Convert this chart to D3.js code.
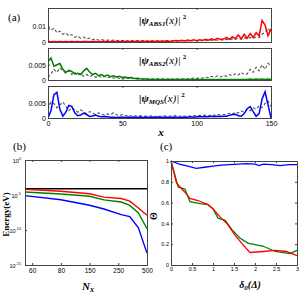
<!DOCTYPE html>
<html><head><meta charset="utf-8">
<script src="https://cdn.jsdelivr.net/npm/d3@7"></script>
<style>
body{margin:0;background:#fff;}
svg{display:block;}
.tick text{font-family:"Liberation Sans",Arial,sans-serif;}
</style></head>
<body>
<script>
// ---------- DATA ----------
// Panel (a): x grid 0..150 step 2
const xA = d3.range(0, 151, 2);
const abs1 = [.0003,.0002,.0003,.0002,.0003,.0002,.0003,.0002,.0003,.0002,.0003,.0002,.0003,.0003,.0002,.0003,.0003,.0002,.0003,.0004,.0003,.0002,.0003,.0004,.0003,.0003,.0004,.0003,.0004,.0003,.0005,.0003,.0004,.0005,.0003,.0005,.0004,.0006,.0004,.0005,.0007,.0004,.0006,.0009,.0006,.0011,.0007,.0012,.0008,.0015,.0009,.0014,.0010,.0018,.0012,.0020,.0013,.0024,.0016,.0019,.0030,.0018,.0034,.0022,.0045,.0020,.0050,.0025,.0055,.0030,.0060,.0040,.0140,.0110,.0040,.0085];
const ref1 = [.0095,.0075,.0090,.0060,.0070,.0050,.0058,.0040,.0048,.0030,.0038,.0025,.0032,.0020,.0026,.0015,.0020,.0012,.0016,.0010,.0013,.0009,.0012,.0008,.0011,.0008,.0010,.0007,.0009,.0007,.0009,.0007,.0009,.0006,.0008,.0007,.0009,.0006,.0008,.0007,.0009,.0007,.0008,.0006,.0009,.0007,.0008,.0007,.0009,.0008,.0010,.0008,.0011,.0009,.0012,.0010,.0014,.0011,.0015,.0012,.0018,.0014,.0020,.0016,.0024,.0018,.0028,.0020,.0030,.0024,.0032,.0028,.0050,.0065,.0090,.0060];
const abs2 = [.0060,.0072,.0045,.0050,.0054,.0035,.0025,.0032,.0028,.0020,.0022,.0018,.0030,.0038,.0026,.0018,.0022,.0014,.0018,.0012,.0016,.0011,.0014,.0010,.0012,.0008,.0010,.0007,.0008,.0005,.0006,.0004,.0003,.0003,.0002,.0002,.0002,.0002,.0002,.0002,.0002,.0002,.0002,.0002,.0002,.0002,.0002,.0002,.0002,.0002,.0002,.0002,.0002,.0002,.0002,.0002,.0002,.0002,.0002,.0002,.0002,.0002,.0002,.0002,.0002,.0002,.0002,.0002,.0003,.0002,.0003,.0002,.0003,.0002,.0003,.0002];
const ref2 = [.0008,.0020,.0035,.0025,.0040,.0030,.0022,.0030,.0018,.0025,.0015,.0022,.0012,.0018,.0011,.0016,.0009,.0014,.0008,.0012,.0007,.0010,.0006,.0009,.0005,.0007,.0004,.0006,.0004,.0005,.0003,.0004,.0003,.0004,.0003,.0004,.0003,.0004,.0003,.0004,.0003,.0004,.0003,.0004,.0003,.0004,.0003,.0004,.0005,.0006,.0005,.0008,.0006,.0009,.0008,.0012,.0009,.0014,.0010,.0015,.0012,.0018,.0014,.0020,.0016,.0025,.0018,.0020,.0035,.0025,.0042,.0030,.0050,.0035,.0055,.0045];
const mqs = [.0000,.0025,.0080,.0088,.0030,.0006,.0020,.0043,.0040,.0018,.0008,.0010,.0017,.0012,.0005,.0007,.0010,.0006,.0004,.0005,.0004,.0003,.0003,.0002,.0003,.0003,.0002,.0003,.0002,.0003,.0002,.0003,.0002,.0003,.0002,.0003,.0002,.0003,.0002,.0003,.0003,.0002,.0003,.0003,.0002,.0003,.0003,.0003,.0004,.0003,.0004,.0005,.0004,.0005,.0004,.0006,.0004,.0006,.0005,.0006,.0006,.0009,.0012,.0013,.0008,.0006,.0015,.0032,.0039,.0022,.0006,.0015,.0065,.0090,.0045,.0000];
const ref3 = [.0030,.0055,.0050,.0035,.0045,.0055,.0040,.0025,.0035,.0028,.0020,.0028,.0022,.0015,.0022,.0017,.0012,.0018,.0013,.0010,.0014,.0011,.0018,.0012,.0008,.0012,.0008,.0010,.0007,.0009,.0006,.0008,.0005,.0007,.0006,.0008,.0005,.0007,.0006,.0008,.0005,.0007,.0006,.0008,.0006,.0007,.0006,.0008,.0006,.0008,.0007,.0009,.0008,.0010,.0008,.0011,.0009,.0012,.0010,.0012,.0012,.0016,.0013,.0020,.0017,.0024,.0020,.0030,.0025,.0035,.0030,.0042,.0035,.0050,.0058,.0040];
const xTicksA = [0, 50, 100, 150];

// Panel (b)
const nxPos = [-0.25, 1, 2, 2.5, 3.1, 3.4, 3.7, 4];
const nxTickLabels = ["60", "80", "150", "250", "500"];
const eBlack = [8e-5, 8e-5, 8e-5, 8e-5, 8e-5, 8e-5, 8e-5, 8e-5];
const eRed   = [6.3e-5, 3.4e-5, 1.5e-5, 5e-6, 3.2e-6, 1.3e-6, 1.4e-7, 1.3e-8];
const eGreen = [2.7e-5, 1.4e-5, 6.5e-6, 2e-6, 1e-6, 3.2e-7, 2.7e-8, 1.5e-10];
const eBlue  = [8e-6, 2.1e-6, 3.4e-7, 1e-7, 1.6e-8, 8e-9, 2e-10, 5e-14];
const eTickExp = ["0", "-5", "-10", "-15"];
const eTicks = [1, 1e-5, 1e-10, 1e-15];

// Panel (c)
const dRed   = [0, 0.13, 0.33, 0.45, 0.64, 0.88, 1.0, 1.17, 1.33, 1.52, 1.68, 1.88, 2.2, 2.48, 2.75, 3.0];
const thRed  = [1.0, 0.79, 0.70, 0.64, 0.62, 0.58, 0.54, 0.46, 0.40, 0.29, 0.21, 0.12, 0.13, 0.14, 0.13, 0.09];
const dGreen = [0, 0.17, 0.33, 0.45, 0.69, 0.88, 1.0, 1.12, 1.29, 1.45, 1.64, 1.83, 2.2, 2.48, 2.83, 3.0];
const thGreen= [1.0, 0.75, 0.73, 0.61, 0.59, 0.58, 0.54, 0.45, 0.43, 0.34, 0.26, 0.21, 0.18, 0.13, 0.11, 0.14];
const dBlue  = [0, 0.2, 0.4, 0.6, 0.8, 1.0, 1.2, 1.4, 1.6, 1.8, 2.0, 2.1, 2.2, 2.4, 2.6, 2.8, 3.0];
const thBlue = [1.0, 0.97, 0.95, 0.93, 0.94, 0.95, 0.96, 0.965, 0.97, 0.975, 0.97, 0.955, 0.97, 0.965, 0.955, 0.965, 0.965];
const thTicks = [0, 0.2, 0.4, 0.6, 0.8, 1];
const dTicks = [0, 0.5, 1, 1.5, 2, 2.5, 3];

// ---------- DRAW ----------
const W = 306, H = 300;
const svg = d3.select("body").append("svg").attr("width", W).attr("height", H);
const serif = "'Liberation Serif','Times New Roman',serif";
const sans = "'Liberation Sans',Arial,sans-serif";
const frameCol = "#444";

function frame(x0, x1, y0, y1) {
  svg.append("rect").attr("x", x0 + 0.5).attr("y", y0 + 0.5)
    .attr("width", x1 - x0).attr("height", y1 - y0)
    .attr("fill", "none").attr("stroke", frameCol).attr("stroke-width", 1);
}
function styleAxis(g, fs) {
  g.select(".domain").remove();
  g.selectAll(".tick line").attr("stroke", frameCol);
  g.selectAll(".tick text").attr("font-size", fs).attr("fill", "#000");
}

// ----- Panel (a) -----
const axL = 48, axR = 271;
const xa = d3.scaleLinear().domain([0, 150]).range([axL, axR]);
const subs = [
  {top: 8, bot: 42, max: 0.022, ticks: [0, 0.01], fmt: ["0", "0.01"], main: abs1, ref: ref1, col: "#ff0000", sub: "ABS1"},
  {top: 48, bot: 80, max: 0.0105, ticks: [0, 0.005], fmt: ["0", "0.005"], main: abs2, ref: ref2, col: "#008000", sub: "ABS2"},
  {top: 86, bot: 118, max: 0.011, ticks: [0, 0.005], fmt: ["0", "0.005"], main: mqs, ref: ref3, col: "#0000ff", sub: "MQS"}
];
subs.forEach((s, i) => {
  const y = d3.scaleLinear().domain([0, s.max]).range([s.bot, s.top]);
  const line = d3.line().x((d, j) => xa(xA[j])).y(d => y(d));
  const clipId = "clipa" + i;
  svg.append("clipPath").attr("id", clipId).append("rect")
    .attr("x", axL).attr("y", s.top).attr("width", axR - axL + 1).attr("height", s.bot - s.top + 1);
  const g = svg.append("g").attr("clip-path", `url(#${clipId})`);
  g.append("path").datum(s.ref).attr("d", line).attr("fill", "none")
    .attr("stroke", "#555").attr("stroke-width", 1.1).attr("stroke-dasharray", "3,2");
  g.append("path").datum(s.main).attr("d", line).attr("fill", "none")
    .attr("stroke", s.col).attr("stroke-width", 1.5);
  frame(axL, axR, s.top, s.bot);
  const ya = svg.append("g").attr("transform", `translate(${axL},0)`)
    .call(d3.axisLeft(y).tickValues(s.ticks).tickSize(-2).tickPadding(2).tickFormat((d, k) => s.fmt[k]));
  styleAxis(ya, 7);
  const xt = svg.append("g").attr("transform", `translate(0,${s.bot})`)
    .call(d3.axisBottom(xa).tickValues(xTicksA).tickSize(-2).tickPadding(3).tickFormat(i === 2 ? d3.format("d") : ""));
  styleAxis(xt, 7);
  const xtTop = svg.append("g").attr("transform", `translate(0,${s.top})`)
    .call(d3.axisTop(xa).tickValues(xTicksA).tickSize(-2).tickFormat(""));
  styleAxis(xtTop, 7);
  // label
  const t = svg.append("text").attr("x", 139).attr("y", s.top + 16)
    .attr("font-family", serif).attr("font-size", 11).attr("font-style", "italic").attr("font-weight", "bold");
  t.append("tspan").text("|ψ");
  t.append("tspan").attr("font-size", 7).attr("dy", 2).text(s.sub);
  t.append("tspan").attr("dy", -2).attr("font-weight", "normal").text("(x)|");
  t.append("tspan").attr("font-size", 7).attr("font-style", "normal").attr("dy", -5).attr("dx", 2).text("2");
});
svg.append("text").attr("x", 8).attr("y", 21).attr("font-family", serif).attr("font-size", 11).text("(a)");
svg.append("text").attr("x", 161).attr("y", 136).attr("text-anchor", "middle")
  .attr("font-family", serif).attr("font-size", 11).attr("font-style", "italic").attr("font-weight", "bold").text("x");

// ----- Panel (b) -----
const bL = 25, bR = 147, bT = 160, bB = 265;
const xb = d3.scaleLinear().domain([-0.25, 4]).range([bL, bR]);
const yb = d3.scaleLog().domain([1e-15, 1]).range([bB, bT]);
const lineB = d3.line().x((d, j) => xb(nxPos[j])).y(d => yb(d));
[[eBlack, "#000"], [eRed, "#ff0000"], [eGreen, "#008000"], [eBlue, "#0000ff"]].forEach(([arr, c]) => {
  svg.append("path").datum(arr).attr("d", lineB).attr("fill", "none").attr("stroke", c).attr("stroke-width", 1.4);
});
frame(bL, bR, bT, bB);
const xbAxis = svg.append("g").attr("transform", `translate(0,${bB})`)
  .call(d3.axisBottom(xb).tickValues([0, 1, 2, 3, 4]).tickSize(-2).tickPadding(3).tickFormat(d => nxTickLabels[d]));
styleAxis(xbAxis, 6.5);
const xbTop = svg.append("g").attr("transform", `translate(0,${bT})`)
  .call(d3.axisTop(xb).tickValues([0, 1, 2, 3]).tickSize(-2).tickFormat(""));
styleAxis(xbTop, 6);
const ybAxis = svg.append("g").attr("transform", `translate(${bL},0)`)
  .call(d3.axisLeft(yb).tickValues(eTicks).tickSize(-2).tickPadding(3).tickFormat(""));
styleAxis(ybAxis, 6);
ybAxis.selectAll(".tick").each(function(d, k) {
  const tx = d3.select(this).append("text").attr("x", -4).attr("y", 2).attr("text-anchor", "end")
    .attr("font-family", sans).attr("font-size", 5.5).attr("fill", "#000");
  tx.append("tspan").text("10");
  tx.append("tspan").attr("font-size", 3.8).attr("dy", -3).text(eTickExp[k]);
});
svg.append("text").attr("x", 13).attr("y", 150).attr("font-family", serif).attr("font-size", 11).text("(b)");
svg.append("text").attr("transform", `translate(9,${(bT + bB) / 2 + 2}) rotate(-90)`).attr("text-anchor", "middle")
  .attr("font-family", serif).attr("font-size", 9).attr("font-weight", "bold").text("Energy(eV)");
const nxl = svg.append("text").attr("x", 88).attr("y", 290).attr("text-anchor", "middle")
  .attr("font-family", serif).attr("font-size", 11).attr("font-style", "italic").attr("font-weight", "bold");
nxl.append("tspan").text("N");
nxl.append("tspan").attr("font-size", 8).attr("dy", 2).text("x");

// ----- Panel (c) -----
const cL = 171, cR = 297, cT = 161, cB = 265;
const xc = d3.scaleLinear().domain([0, 3]).range([cL, cR]);
const yc = d3.scaleLinear().domain([0, 1]).range([cB, cT]);
function lineC(xs) { return d3.line().x((d, j) => xc(xs[j])).y(d => yc(d)); }
svg.append("path").datum(thBlue).attr("d", lineC(dBlue)).attr("fill", "none").attr("stroke", "#0000ff").attr("stroke-width", 1.3);
svg.append("path").datum(thGreen).attr("d", lineC(dGreen)).attr("fill", "none").attr("stroke", "#008000").attr("stroke-width", 1.3);
svg.append("path").datum(thRed).attr("d", lineC(dRed)).attr("fill", "none").attr("stroke", "#ff0000").attr("stroke-width", 1.3);
frame(cL, cR, cT, cB);
const xcAxis = svg.append("g").attr("transform", `translate(0,${cB})`)
  .call(d3.axisBottom(xc).tickValues(dTicks).tickSize(-2).tickPadding(2).tickFormat(d3.format("")));
styleAxis(xcAxis, 5.5);
const xcTop = svg.append("g").attr("transform", `translate(0,${cT})`)
  .call(d3.axisTop(xc).tickValues(dTicks).tickSize(-2).tickFormat(""));
styleAxis(xcTop, 5.5);
const ycAxis = svg.append("g").attr("transform", `translate(${cL},0)`)
  .call(d3.axisLeft(yc).tickValues(thTicks).tickSize(-2).tickPadding(2).tickFormat(d3.format("")));
styleAxis(ycAxis, 5.5);
const ycR = svg.append("g").attr("transform", `translate(${cR},0)`)
  .call(d3.axisRight(yc).tickValues(thTicks).tickSize(-2).tickFormat(""));
styleAxis(ycR, 5.5);
svg.append("text").attr("x", 160).attr("y", 150).attr("font-family", serif).attr("font-size", 11).text("(c)");
svg.append("text").attr("transform", `translate(157,${(cT + cB) / 2 + 3}) rotate(-90)`).attr("text-anchor", "middle")
  .attr("font-family", serif).attr("font-size", 10).attr("font-weight", "bold").text("Θ");
const dl = svg.append("text").attr("x", 250).attr("y", 288).attr("text-anchor", "middle")
  .attr("font-family", serif).attr("font-size", 10).attr("font-style", "italic").attr("font-weight", "bold");
dl.append("tspan").text("δ");
dl.append("tspan").attr("font-size", 7).attr("dy", 2).text("0");
dl.append("tspan").attr("dy", -2).text("(Δ)");
</script>
</body></html>
